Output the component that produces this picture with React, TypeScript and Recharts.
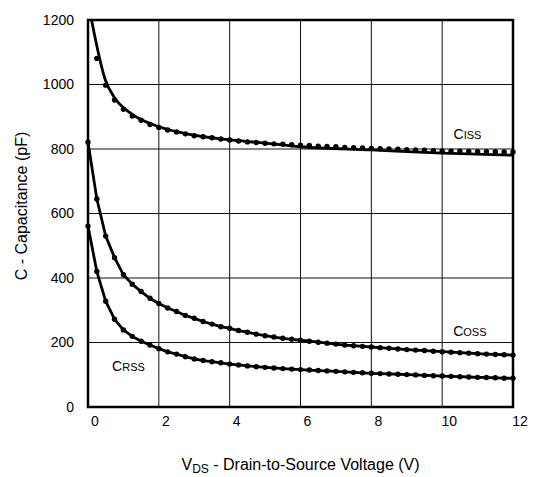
import { ComposedChart, Line, XAxis, YAxis, CartesianGrid, ReferenceArea, ReferenceDot, Label } from "recharts";

// measured points, every 0.25 V
const vds = [
    0, 0.25, 0.5, 0.75, 1, 1.25, 1.5, 1.75, 2, 2.25, 2.5, 2.75, 3, 3.25, 3.5, 3.75,
    4, 4.25, 4.5, 4.75, 5, 5.25, 5.5, 5.75, 6, 6.25, 6.5, 6.75, 7, 7.25, 7.5, 7.75,
    8, 8.25, 8.5, 8.75, 9, 9.25, 9.5, 9.75, 10, 10.25, 10.5, 10.75, 11, 11.25, 11.5, 11.75, 12,
];
const ciss = [
    null, 1081, 998, 952, 923, 902, 889, 876, 867, 859, 853, 847, 841, 838, 835, 831,
    828, 825, 822, 820, 818, 816, 815, 813, 812, 811, 809, 808, 807, 805, 804, 803,
    802, 801, 800, 799, 798, 797, 796, 795, 794, 793.5, 793, 792.5, 792, 792, 791.5, 791, 791,
];
const coss = [
    821, 645, 530, 463, 410, 381, 358, 337, 321, 307, 296, 284, 275, 265, 257, 249,
    244, 237, 232, 226, 221, 217, 213, 210, 207, 204, 201, 198, 195, 192, 190, 188,
    186, 184, 182, 180, 178, 176.5, 175, 173, 171.5, 170, 168.5, 167, 165.5, 164, 163, 162, 161,
];
const crss = [
    561, 420, 328, 272, 239, 219, 204, 192, 181, 171, 164, 156, 149, 144, 140.5, 137,
    133, 130.5, 127.5, 125, 123, 121, 119, 117.5, 116, 114.5, 113, 112, 110.5, 109, 107.5, 106,
    104.5, 103.5, 102.5, 101.5, 100.5, 99.5, 98, 97, 96, 95, 94, 93, 92, 91.5, 90.5, 89.5, 89,
];

// Ciss model curve
const cissFitV = [0.1, 0.49, 0.73, 1.2, 2, 3, 4, 4.85, 6, 8, 10, 12];
const cissFitC = [1200, 1014, 962, 911, 869, 843, 828, 820, 807, 797, 787, 781];

const xTicks = [0, 2, 4, 6, 8, 10, 12];
const yTicks = [0, 200, 400, 600, 800, 1000, 1200];

const toPoints = (xs: number[], ys: (number | null)[]) =>
    xs.map((x, i) => ({ x, y: ys[i] })).filter((p) => p.y !== null);

const cissData = toPoints(vds, ciss);
const cossData = toPoints(vds, coss);
const crssData = toPoints(vds, crss);
const cissFit = toPoints(cissFitV, cissFitC);

const font = "'Liberation Sans', Arial, Helvetica, sans-serif";

const XTick = ({ x, y, payload }: any) => (
    <text x={x + 7} y={y + 7} dy="0.71em" textAnchor="middle" fontSize={14} fontFamily={font} fill="#000">
        {payload.value}
    </text>
);

const YTick = ({ x, y, payload }: any) => (
    <text x={x - 12} y={y} dy="0.355em" textAnchor="end" fontSize={14} fontFamily={font} fill="#000">
        {payload.value}
    </text>
);

// "C" big, subscript part in small caps
const capLabel = (big: string, small: string) => ({ viewBox }: any) => (
    <text x={viewBox.x} y={viewBox.y} fontFamily={font} fill="#000">
        <tspan fontSize={14}>{big}</tspan>
        <tspan fontSize={11}>{small}</tspan>
    </text>
);

const dot = { r: 2.7, fill: "#000", stroke: "none" };

export default function App() {
    return (
        <div style={{ position: "absolute", left: 0, top: 0 }}>
            <ComposedChart width={535} height={477} margin={{ top: 20, right: 22, left: 0, bottom: 30 }}>
                <CartesianGrid stroke="#111" strokeWidth={1} />
                <XAxis
                    type="number"
                    dataKey="x"
                    domain={[0, 12]}
                    ticks={xTicks}
                    height={40}
                    axisLine={false}
                    tickLine={false}
                    tickSize={0}
                    tick={<XTick />}
                    label={
                        <Label
                            content={({ viewBox }: any) => (
                                <text
                                    x={viewBox.x + viewBox.width / 2}
                                    y={470}
                                    textAnchor="middle"
                                    fontSize={16}
                                    fontFamily={font}
                                    fill="#000"
                                >
                                    <tspan>V</tspan>
                                    <tspan fontSize={12} dy={3}>DS</tspan>
                                    <tspan dy={-3}> - Drain-to-Source Voltage (V)</tspan>
                                </text>
                            )}
                        />
                    }
                />
                <YAxis
                    type="number"
                    domain={[0, 1200]}
                    ticks={yTicks}
                    width={88}
                    axisLine={false}
                    tickLine={false}
                    tickSize={0}
                    tick={<YTick />}
                    label={
                        <Label
                            content={() => (
                                <text
                                    x={26.5}
                                    y={206}
                                    transform="rotate(-90 26.5 206)"
                                    textAnchor="middle"
                                    fontSize={16}
                                    fontFamily={font}
                                    fill="#000"
                                >
                                    C - Capacitance (pF)
                                </text>
                            )}
                        />
                    }
                />
                <ReferenceArea x1={0} x2={12} y1={0} y2={1200} fill="none" stroke="#000" strokeWidth={2.5} />

                <Line data={cissFit} dataKey="y" type="monotone" stroke="#000" strokeWidth={2.8} dot={false} isAnimationActive={false} />
                <Line data={cissData} dataKey="y" type="linear" stroke="none" dot={dot} isAnimationActive={false} />
                <Line data={cossData} dataKey="y" type="linear" stroke="#000" strokeWidth={2.8} dot={dot} isAnimationActive={false} />
                <Line data={crssData} dataKey="y" type="linear" stroke="#000" strokeWidth={2.8} dot={dot} isAnimationActive={false} />

                <ReferenceDot x={10.32} y={831} r={0} fill="none" stroke="none" label={<Label content={capLabel("C", "ISS")} />} />
                <ReferenceDot x={10.31} y={220} r={0} fill="none" stroke="none" label={<Label content={capLabel("C", "OSS")} />} />
                <ReferenceDot x={0.68} y={111.6} r={0} fill="none" stroke="none" label={<Label content={capLabel("C", "RSS")} />} />
            </ComposedChart>
        </div>
    );
}
